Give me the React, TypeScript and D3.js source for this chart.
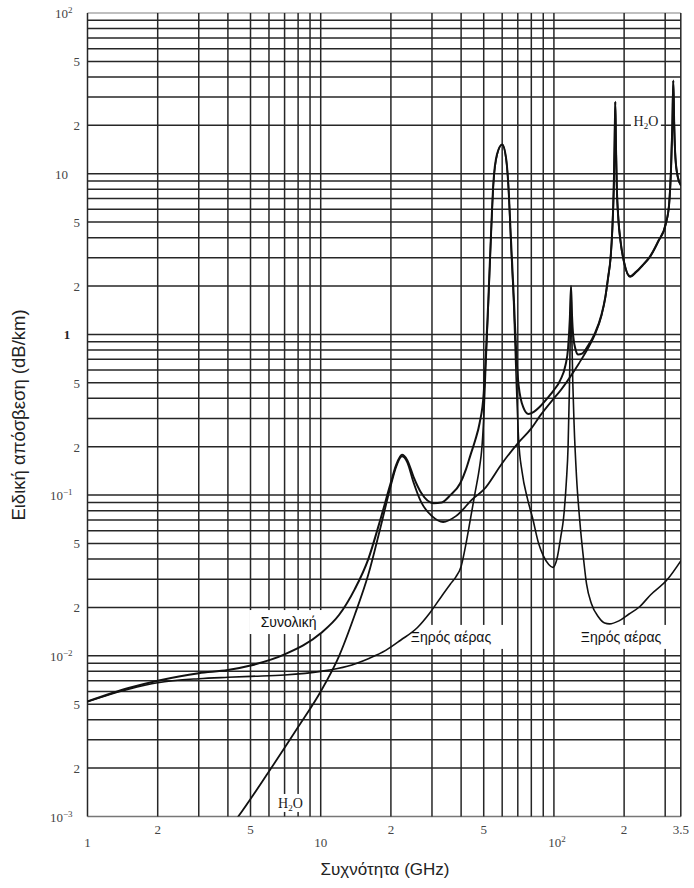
import React from 'react';
import * as d3 from 'd3';

const W = 694;
const H = 888;
const PLOT = { left: 87.5, right: 680.8, top: 13, bottom: 816.5 };

const freqDomain: [number, number] = [1, 350];
const attenDomain: [number, number] = [1e-3, 1e2];

// [frequency GHz, specific attenuation dB/km]
const totalCurve: [number, number][] = [
  [1, 5.2e-3], [1.5, 6.3e-3], [2, 7.0e-3], [3, 7.8e-3], [4, 8.15e-3], [5, 8.7e-3], [7, 1.02e-2],
  [10, 1.38e-2], [12, 1.8e-2], [14, 2.6e-2], [16, 4.0e-2], [18, 7.0e-2], [20, 0.12], [21, 0.152],
  [22.3, 0.178], [23.5, 0.165], [25, 0.13], [27, 0.103], [30.5, 0.089], [33, 0.09], [36, 0.1],
  [39.6, 0.118], [42, 0.145], [44, 0.18], [46, 0.22], [48, 0.28], [50, 0.43], [51, 0.72],
  [52.3, 1.6], [53.5, 3.6], [55, 8.7], [57, 13.2], [60, 15.2], [62.5, 12.2], [63.7, 8.7],
  [65.5, 3.8], [67.3, 1.7], [69, 0.75], [70.6, 0.48], [74, 0.35], [77.7, 0.32], [82, 0.33],
  [87, 0.355], [95, 0.41], [100, 0.45], [106.5, 0.52], [112, 0.64], [115, 0.82], [117, 1.25],
  [118.4, 2.0], [119.6, 1.3], [121, 0.98], [124, 0.8], [127, 0.75], [132, 0.76], [140, 0.85],
  [150, 1.02], [160, 1.33], [166, 1.7], [171, 2.3], [175, 3.0], [178, 4.5], [180.5, 8],
  [182, 15], [183.3, 28], [184.5, 15], [186, 8.5], [189, 5.2], [193, 3.8], [200, 2.8],
  [212, 2.3], [225, 2.45], [240, 2.7], [258, 3.05], [280, 3.8], [302, 4.9], [312, 6.5],
  [318, 11], [322, 20], [325, 38], [328, 20], [332, 12.5], [340, 9.5], [350, 8.5],
];

const dryAirCurve: [number, number][] = [
  [1, 5.2e-3], [1.5, 6.2e-3], [2, 6.8e-3], [3, 7.2e-3], [4, 7.35e-3], [5, 7.45e-3], [7, 7.6e-3],
  [10, 8.0e-3], [13, 8.6e-3], [16, 9.6e-3], [19, 1.08e-2], [22, 1.25e-2], [26, 1.5e-2],
  [29.3, 1.84e-2], [33, 2.35e-2], [36, 2.8e-2], [38, 3.1e-2], [40, 3.6e-2], [42, 5.0e-2],
  [44, 7.3e-2], [46, 0.105], [48, 0.15], [49, 0.19], [50, 0.3], [51, 0.62], [52.3, 1.5],
  [53.5, 3.5], [55, 8.5], [57, 13], [60, 15.2], [62.5, 12], [63.7, 8.7], [65.5, 3.5],
  [67.3, 1.5], [69, 0.5], [70.6, 0.22], [73, 0.14], [77, 0.095], [81, 0.072], [86, 0.05],
  [90, 0.042], [95, 0.037], [99, 0.0355], [103, 0.04], [107, 0.055], [110, 0.072],
  [113, 0.12], [115, 0.2], [116.5, 0.45], [117.5, 1.0], [118.4, 1.95], [119.3, 1.0],
  [120.5, 0.5], [122, 0.28], [125, 0.13], [129, 0.07], [134, 0.04], [138, 0.028],
  [145, 0.021], [155, 0.0175], [165, 0.016], [173, 0.0158], [190, 0.0165], [210, 0.0182],
  [233, 0.0202], [260, 0.024], [305, 0.0296], [350, 0.039],
];

const waterCurve: [number, number][] = [
  [4.2, 0.9e-3], [4.43, 1e-3], [5.93, 1.86e-3], [8, 3.6e-3], [10, 6.0e-3], [12, 1.0e-2],
  [14, 1.8e-2], [16, 3.2e-2], [18, 6.2e-2], [20, 0.115], [21, 0.148], [22.3, 0.174],
  [23.5, 0.16], [25, 0.12], [27, 0.09], [30, 0.074], [33.5, 0.068], [38, 0.074], [45, 0.095],
  [50, 0.108], [60, 0.158], [70, 0.21], [80, 0.26], [87, 0.31], [100, 0.4], [107, 0.45],
  [118, 0.55], [128, 0.66], [140, 0.82], [150, 1.0], [160, 1.31], [166, 1.68], [171, 2.28],
  [175, 3.0], [178, 4.5], [180.5, 8], [182, 15], [183.3, 28], [184.5, 15], [186, 8.5],
  [189, 5.2], [193, 3.8], [200, 2.8], [212, 2.28], [225, 2.43], [240, 2.68], [258, 3.03],
  [280, 3.78], [302, 4.88], [312, 6.5], [318, 11], [322, 20], [325, 38], [328, 20],
  [332, 12.5], [340, 9.5], [350, 8.5],
];

const xTickValues = [1, 2, 5, 10, 20, 50, 100, 200, 350];
const xTickLabels = ['1', '2', '5', '10', '2', '5', '10|2', '2', '3.5'];
const yTickValues = [1e-3, 2e-3, 5e-3, 1e-2, 2e-2, 5e-2, 1e-1, 0.2, 0.5, 1, 2, 5, 10, 20, 50, 100];
const yTickLabels = ['10|−3', '2', '5', '10|−2', '2', '5', '10|−1', '2', '5', '1', '2', '5', '10', '2', '5', '10|2'];

const curveLabels = [
  { text: 'Συνολική', f: 7.28, v: 0.0151, kind: 'sans' },
  { text: 'Ξηρός αέρας', f: 36.2, v: 0.0122, kind: 'sans' },
  { text: 'Ξηρός αέρας', f: 194, v: 0.0122, kind: 'sans' },
  { text: 'H|2|O', f: 248, v: 19.8, kind: 'serif' },
  { text: 'H|2|O', f: 7.42, v: 1.13e-3, kind: 'serif' },
];

const xTitle = 'Συχνότητα (GHz)';
const yTitle = 'Ειδική απόσβεση (dB/km)';

function gridValues(lo: number, hi: number): number[] {
  const out: number[] = [];
  for (let e = Math.floor(Math.log10(lo)); e <= Math.ceil(Math.log10(hi)); e++) {
    for (let m = 1; m <= 9; m++) {
      const v = m * Math.pow(10, e);
      if (v >= lo * 0.999 && v <= hi * 1.001) out.push(v);
    }
  }
  if (!out.some((v) => Math.abs(v - hi) / hi < 1e-6)) out.push(hi);
  return out;
}

export default function App() {
  const x = d3.scaleLog().domain(freqDomain).range([PLOT.left, PLOT.right]);
  const y = d3.scaleLog().domain(attenDomain).range([PLOT.bottom, PLOT.top]);
  const line = d3
    .line<[number, number]>()
    .x((d) => x(d[0]))
    .y((d) => y(d[1]))
    .curve(d3.curveMonotoneX);

  const xGrid = gridValues(freqDomain[0], freqDomain[1]);
  const yGrid = gridValues(attenDomain[0], attenDomain[1]);
  const serif = '"Liberation Serif", "DejaVu Serif", serif';
  const sans = '"Liberation Sans", Arial, sans-serif';
  const gridColor = '#262626';

  const renderPow = (lab: string, props: any, key: any) => {
    const parts = lab.split('|');
    if (parts.length === 1)
      return (
        <text key={key} {...props}>
          {lab}
        </text>
      );
    return (
      <text key={key} {...props}>
        {parts[0]}
        <tspan dy={-5} fontSize={9}>
          {parts[1]}
        </tspan>
      </text>
    );
  };

  return (
    <svg
      width={W}
      height={H}
      style={{ position: 'absolute', left: 0, top: 0, background: '#fff' }}
      xmlns="http://www.w3.org/2000/svg"
    >
      <defs>
        <clipPath id="plotClip">
          <rect x={PLOT.left} y={PLOT.top} width={PLOT.right - PLOT.left} height={PLOT.bottom - PLOT.top} />
        </clipPath>
      </defs>
      <rect x={0} y={0} width={W} height={H} fill="#fff" />
      {/* grid */}
      <g>
        {yGrid.map((v, i) => (
          <line
            key={'yg' + i}
            x1={PLOT.left}
            x2={PLOT.right}
            y1={y(v)}
            y2={y(v)}
            stroke={v === attenDomain[1] ? '#aaa' : v === attenDomain[0] ? '#777' : gridColor}
            strokeWidth={1.5}
          />
        ))}
        {xGrid.map((v, i) => (
          <line
            key={'xg' + i}
            x1={x(v)}
            x2={x(v)}
            y1={PLOT.top}
            y2={PLOT.bottom}
            stroke={gridColor}
            strokeWidth={1.5}
          />
        ))}
      </g>
      {/* label boxes */}
      <g>
        {curveLabels.map((l, i) => {
          const cx = x(l.f);
          const by = y(l.v);
          if (l.kind === 'sans') {
            const w = l.text.length * 8.6 + 10;
            return <rect key={'lb' + i} x={cx - w / 2} y={by - 17} width={w} height={24} fill="#fff" />;
          }
          return <rect key={'lb' + i} x={cx - 15} y={by - 14} width={30} height={18} fill="#fff" />;
        })}
      </g>
      {/* curves */}
      <g clipPath="url(#plotClip)" fill="none" stroke="#111" strokeLinejoin="round" strokeLinecap="round">
        <path d={line(dryAirCurve) || ''} strokeWidth={1.6} />
        <path d={line(waterCurve) || ''} strokeWidth={1.8} />
        <path d={line(totalCurve) || ''} strokeWidth={2} />
      </g>
      {/* curve labels */}
      <g>
        {curveLabels.map((l, i) => {
          const cx = x(l.f);
          const by = y(l.v);
          if (l.kind === 'sans') {
            return (
              <text key={'lt' + i} x={cx} y={by} textAnchor="middle" fontFamily={sans} fontSize={14} fill="#111">
                {l.text}
              </text>
            );
          }
          const parts = l.text.split('|');
          return (
            <text key={'lt' + i} x={cx} y={by} textAnchor="middle" fontFamily={serif} fontSize={14} fill="#222">
              {parts[0]}
              <tspan dy={3} fontSize={9}>
                {parts[1]}
              </tspan>
              <tspan dy={-3}>{parts[2]}</tspan>
            </text>
          );
        })}
      </g>
      {/* x tick labels */}
      <g fontFamily={serif} fontSize={13} fill="#444">
        {xTickValues.map((v, i) => {
          const lab = xTickLabels[i];
          const isDecade = Math.abs(Math.log10(v) - Math.round(Math.log10(v))) < 1e-9;
          const ty = isDecade ? 847 : 834;
          return renderPow(lab, { x: x(v) + (lab.includes('|') ? 3 : 0), y: ty, textAnchor: 'middle' }, 'xt' + i);
        })}
      </g>
      {/* y tick labels */}
      <g fontFamily={serif} fontSize={13} fill="#444">
        {yTickValues.map((v, i) => {
          const lab = yTickLabels[i];
          const ty = y(v) + 5;
          if (lab.includes('|')) {
            const neg = lab.includes('−');
            return renderPow(lab, { x: neg ? 50 : 55, y: ty, textAnchor: 'start' }, 'yt' + i);
          }
          if (lab === '10') return renderPow(lab, { x: 55, y: ty, textAnchor: 'start' }, 'yt' + i);
          if (lab === '1')
            return renderPow(lab, { x: 67, y: ty, textAnchor: 'middle', fontWeight: 'bold', fill: '#222' }, 'yt' + i);
          return renderPow(lab, { x: 80, y: ty, textAnchor: 'end' }, 'yt' + i);
        })}
      </g>
      {/* titles */}
      <text x={385} y={875} textAnchor="middle" fontFamily={sans} fontSize={17} fill="#222">
        {xTitle}
      </text>
      <text
        transform={`translate(25, 415) rotate(-90)`}
        textAnchor="middle"
        fontFamily={sans}
        fontSize={18.5}
        fill="#222"
      >
        {yTitle}
      </text>
    </svg>
  );
}
